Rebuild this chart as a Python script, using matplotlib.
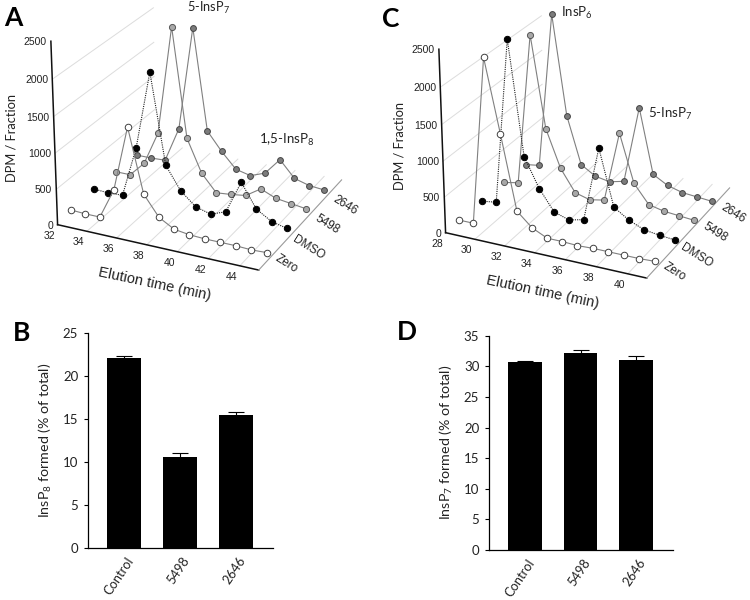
import numpy as np, matplotlib
matplotlib.use('Agg')
import matplotlib.pyplot as plt
from mpl_toolkits.mplot3d import proj3d
from matplotlib.transforms import ScaledTranslation

plt.rcParams['font.family'] = ['Lato', 'DejaVu Sans']
plt.rcParams['mathtext.default'] = 'regular'

series_names = ['Zero', 'DMSO', '5498', '2646']
time_a = [32 + i for i in range(14)]
zero_a = [50,40,40,470,1380,500,220,100,70,60,60,60,50,60]
dmso_a = [70,60,70,790,1880,630,310,130,70,150,610,280,150,100]
s5498_a = [50,50,260,740,2270,750,290,50,70,100,240,150,120,90]
s2646_a = [30,30,40,550,2040,600,340,120,70,150,390,160,100,80]
ticks_a = [32,34,36,38,40,42,44]
time_c = [28 + i for i in range(14)]
zero_c = [20,20,2340,1350,330,140,40,40,30,40,40,40,40,50]
dmso_c = [10,40,2360,780,370,80,10,60,1110,330,190,100,70,50]
s5498_c = [10,50,2200,920,390,80,20,60,1060,390,130,80,60,40]
s2646_c = [10,40,2270,860,180,50,10,60,1170,250,130,70,50,30]
ticks_c = [28,30,32,34,36,38,40]
z_ticks = [0,500,1000,1500,2000,2500]
bar_labels = ['Control', '5498', '2646']
insp8 = [22.1, 10.6, 15.45]
insp8_err = [0.27, 0.39, 0.39]
insp7 = [30.65, 32.15, 31.08]
insp7_err = [0.27, 0.54, 0.54]

W, H = 750, 600
fig = plt.figure(figsize=(7.5, 6), dpi=100)

# camera
ELEV, AZIM, FOCAL, BX, BY = 23.8945, -64.6974, 0.9479, 1.1135, 1.0992
USPAN, SA, SB = 13.185, -0.5573, 3.8529
LEFT, SIDE, TOP = 21.3, 354.1, -58.4

face = ['white', 'black', '#a8a8a8', '#7c7c7c']
edge = ['#404040', 'black', '#555555', '#444444']
msize = [4.7, 4.6, 4.4, 4.2]
depth_off = [(16, 6), (19, 12), (18, 9), (18, 9)]


def panel3d(shift, t0, times, data, ticks):
    ax = fig.add_axes([(LEFT + shift[0]) / W, 1 - (TOP + shift[1] + SIDE) / H, SIDE / W, SIDE / H],
                      projection='3d', computed_zorder=False)
    ax.set_proj_type('persp', focal_length=FOCAL)
    ax.view_init(ELEV, AZIM, 0)
    ax.set_box_aspect((BX, BY, 1))
    ax.set_xlim3d(t0, t0 + USPAN)
    ax.set_ylim3d(SA, SB)
    ax.set_zlim3d(0, 2500)
    ax.set_axis_off()
    ax.patch.set_alpha(0)
    t1 = t0 + USPAN

    def line(xs, ys, zs, **kw):
        ax.plot(xs, ys, zs, clip_on=False, **kw)

    grid = dict(color='#dcdcdc', lw=0.7, zorder=1)
    for z in z_ticks[1:-1]:
        line([t0, t0], [SA, SB], [z, z], **grid)
    for t in ticks[1:]:
        line([t, t], [SA, SB], [0, 0], **grid)
    line([t0, t1], [SA, SA], [0, 0], color='#111111', lw=1.1, zorder=2)
    line([t0, t0], [SA, SA], [0, 2500], color='#111111', lw=1.1, zorder=2)
    line([t1, t1], [SA, SB], [0, 0], color='#9a9a9a', lw=0.8, zorder=2)

    for i in range(3, -1, -1):
        ys = [i] * len(times)
        dotted = i == 1
        line(times, ys, data[i], color='#222222' if dotted else '#808080', lw=0.8,
             ls=(0, (1, 1)) if dotted else '-', zorder=10 + 2 * (3 - i))
        line(times, ys, data[i], ls='none', marker='o', ms=msize[i], mfc=face[i], mec=edge[i],
             mew=0.7, zorder=11 + 2 * (3 - i))

    M = ax.get_proj()

    def label(t, s, z, text, dx, dy, **kw):
        x2, y2, _ = proj3d.proj_transform(t, s, z, M)
        kw.setdefault('ha', 'center')
        kw.setdefault('va', 'center')
        ax.annotate(text, xy=(x2, y2), xycoords='data', xytext=(dx * 0.72, -dy * 0.72),
                    textcoords='offset points', annotation_clip=False, zorder=50, **kw)

    lib = ['Liberation Sans', 'DejaVu Sans']
    for t in ticks:
        label(t, SA, 0, str(t), -8, 11, fontsize=7.5, family=lib, color='#222222')
    for z in z_ticks:
        label(t0, SA, z, str(z), -4, 1, fontsize=7.5, family=lib, color='#222222', ha='right')
    for i, nm in enumerate(series_names):
        label(t1, i, 0, nm, depth_off[i][0], depth_off[i][1], fontsize=8.5, family=lib, color='#222222',
              rotation=-32, rotation_mode='anchor')
    label(t0 + USPAN / 2, SA, 0, 'Elution time (min)', -1, 37, fontsize=10.5, family=lib,
          color='#222222', rotation=-12, rotation_mode='anchor')
    label(t0, SA, 1250, 'DPM / Fraction', -43, 3, fontsize=9.3, color='#222222', rotation=90,
          rotation_mode='anchor')
    return label


lab_a = panel3d((0, 0), 32, time_a, [zero_a, dmso_a, s5498_a, s2646_a], ticks_a)
lab_a(36, 3, s2646_a[4], '5-InsP$_7$', 16, -20, fontsize=9.2, color='#222222')
lab_a(42, 3, s2646_a[10], '1,5-InsP$_8$', 7, -20, fontsize=9.5, color='#222222')
lab_c = panel3d((388, 8), 28, time_c, [zero_c, dmso_c, s5498_c, s2646_c], ticks_c)
lab_c(30, 3, s2646_c[2], 'InsP$_6$', 25, -1, fontsize=9.5, color='#222222')
lab_c(36, 3, s2646_c[8], '5-InsP$_7$', 31, 6, fontsize=9.5, color='#222222')


def panelbar(left, right, top, bottom, vals, errs, ymax, step, ylabel):
    ax = fig.add_axes([left / W, 1 - bottom / H, (right - left) / W, (bottom - top) / H])
    xs = np.arange(3)
    ax.bar(xs, vals, width=0.607, color='black')
    ax.errorbar(xs, vals, yerr=errs, fmt='none', ecolor='black', elinewidth=0.8, capsize=6, capthick=0.8)
    ax.set_xlim(-0.643, 2.66)
    ax.set_ylim(0, ymax)
    ax.set_yticks(np.arange(0, ymax + 1, step))
    ax.set_xticks(xs, bar_labels)
    ax.tick_params(axis='x', length=0, pad=5, labelsize=9.3, labelcolor='#222222')
    ax.tick_params(axis='y', length=3, width=0.8, pad=4, labelsize=9.5, labelcolor='#222222')
    off = ScaledTranslation(2 / 100, 0, fig.dpi_scale_trans)
    for lb in ax.get_xticklabels():
        lb.set_rotation(56)
        lb.set_ha('right')
        lb.set_rotation_mode('anchor')
        lb.set_transform(lb.get_transform() + off)
    for s in ('top', 'right'):
        ax.spines[s].set_visible(False)
    for s in ('left', 'bottom'):
        ax.spines[s].set_linewidth(0.9)
    ax.set_ylabel(ylabel, fontsize=10.3, color='#222222', labelpad=6)
    return ax


panelbar(88, 273, 333, 548, insp8, insp8_err, 25, 5, 'InsP$_8$ formed (% of total)')
panelbar(489, 673, 335.7, 550, insp7, insp7_err, 35, 5, 'InsP$_7$ formed (% of total)')

for txt, x, y in (('A', 13, 18), ('B', 22, 333), ('C', 391, 19), ('D', 407, 332)):
    fig.text(x / W, 1 - y / H, txt, fontsize=19, fontweight='bold', ha='center', va='center', color='black')

fig.savefig('out.png', dpi=100)
